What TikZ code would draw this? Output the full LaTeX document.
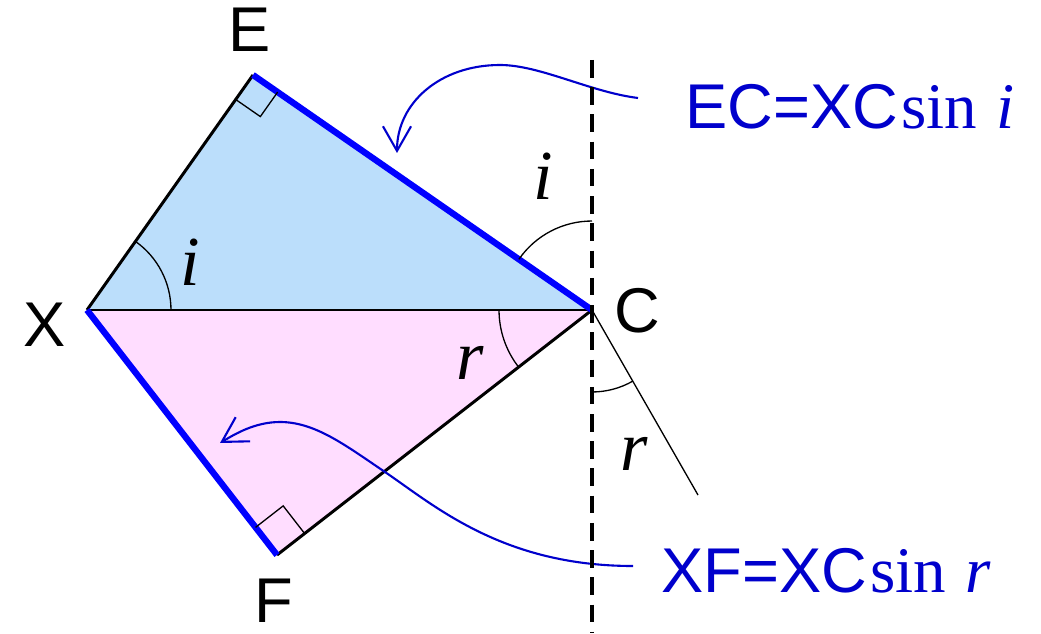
\documentclass[tikz,border=0pt]{standalone}
\usepackage{fontspec}
\setmainfont{Liberation Sans}
\newfontfamily\rmfam{Liberation Serif}
\usetikzlibrary{arrows.meta,angles,calc}
\definecolor{fillblue}{RGB}{187,222,251}
\definecolor{fillpink}{RGB}{255,221,255}
\definecolor{edgeblue}{RGB}{0,0,255}
\definecolor{noteblue}{RGB}{0,0,204}
\begin{document}
\begin{tikzpicture}[x=0.02cm,y=0.02cm,
  thickline/.style={line width=1.7pt},
  blueedge/.style={draw=edgeblue,line width=3.6pt},
  thinline/.style={line width=0.75pt},
  anglearc/.style={draw,line width=0.75pt},
  vlabel/.style={font=\fontsize{36}{40}\selectfont, inner sep=0pt},
  mlabel/.style={font=\fontsize{40}{44}\selectfont\rmfam\itshape, inner sep=0pt},
  note/.style={text=noteblue,font=\fontsize{36}{40}\selectfont, inner sep=0pt, anchor=base west},
  notecurve/.style={draw=noteblue,line width=1.2pt,-{Straight Barb[length=14pt,width=16pt]}},
]
\useasboundingbox (0,0) rectangle (1041,633);
\coordinate (X) at (87,323);
\coordinate (E) at (253,558);
\coordinate (C) at (592,323);
\coordinate (F) at (277,78);
\coordinate (R) at (698,138);
\coordinate (Dtop) at (592,573);
\coordinate (Dbot) at (592,0);
\coordinate (Cup) at (592,450);
\coordinate (Cdn) at (592,200);
% fills
\fill[fillblue] (X) -- (E) -- (C) -- cycle;
\fill[fillpink] (X) -- (C) -- (F) -- cycle;
% edges
\draw[line width=1.1pt] (X) -- (C);
\draw[thickline] (X) -- (E);
\draw[thickline] (C) -- (F);
\draw[thinline] (C) -- (R);
\draw[blueedge] (E) -- (C);
\draw[blueedge] (X) -- (F);
% right angles
\coordinate (Ea) at ($(E)!0.6cm!(X)$);
\coordinate (Eb) at ($(E)!0.6cm!(C)$);
\draw[thinline] (Ea) -- ($(Ea)+(Eb)-(E)$) -- (Eb);
\coordinate (Fa) at ($(F)!0.7cm!(X)$);
\coordinate (Fb) at ($(F)!0.7cm!(C)$);
\draw[thinline] (Fa) -- ($(Fa)+(Fb)-(F)$) -- (Fb);
% angle arcs
\pic[anglearc, angle radius=1.68cm] {angle = C--X--E};
\pic[anglearc, angle radius=1.78cm] {angle = Cup--C--E};
\pic[anglearc, angle radius=1.86cm] {angle = X--C--F};
\pic[anglearc, angle radius=1.64cm] {angle = Cdn--C--R};
% note curves
\coordinate (N1) at (638,535);
\coordinate (T1) at (397,480);
\coordinate (N2) at (633,67);
\coordinate (T2) at (220,190);
\draw[notecurve] (N1) .. controls (590,541) and (540,568) .. (500,568)
  .. controls (440,568) and (397,530) .. (T1);
\draw[notecurve] (N2) .. controls (503,67) and (435,127) .. (385,161)
  .. controls (345,188) and (315,211) .. (280,211)
  .. controls (255,211) and (235,199) .. (T2);
% dashed normal
\draw[line width=1.9pt, dash pattern=on 10pt off 5.5pt] (Dtop) -- (Dbot);
% labels
\node[vlabel] (lE) at (250,603) {E};
\node[vlabel] (lX) at (45,308) {X};
\node[vlabel] (lC) at (637,322) {C};
\node[vlabel] (lF) at (274,32) {F};
\node[mlabel] (i1) at (190,371) {i};
\node[mlabel] (i2) at (543,457) {i};
\node[mlabel] (r1) at (470,270) {r};
\node[mlabel] (r2) at (634,179) {r};
\node[note] (eq1) at (685,504) {EC=XC{\fontsize{37}{40}\selectfont\rmfam\kern2pt sin\hspace{0.3em}\itshape i}};
\node[note] (eq2) at (661,41) {XF=XC{\fontsize{37}{40}\selectfont\rmfam\kern2pt sin\hspace{0.3em}\itshape r}};
\end{tikzpicture}
\end{document}
